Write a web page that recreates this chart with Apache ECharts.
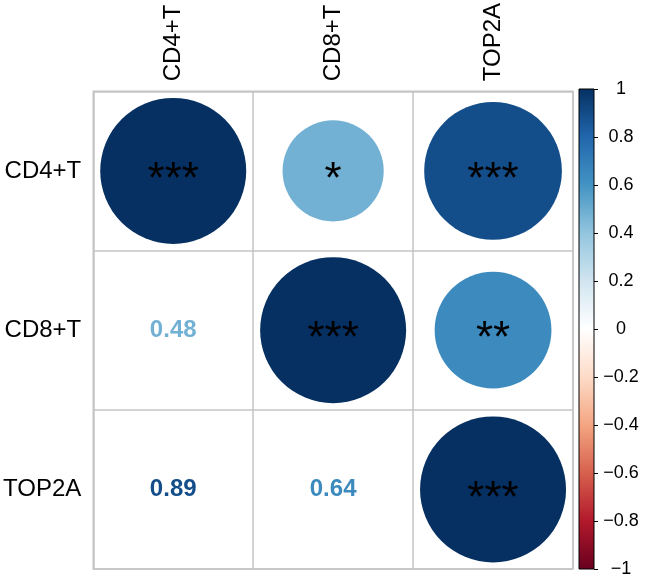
<!DOCTYPE html>
<html>
<head>
<meta charset="utf-8">
<script src="https://cdn.jsdelivr.net/npm/echarts@6/dist/echarts.min.js"></script>
<style>html,body{margin:0;padding:0;background:#fff}#c{width:646px;height:578px}</style>
</head>
<body>
<div id="c"></div>
<script>
// ---- data ----
const categories = ['CD4+T', 'CD8+T', 'TOP2A'];
const corrCD4 = [1, 0.48, 0.89];
const corrCD8 = [0.48, 1, 0.64];
const corrTOP2A = [0.89, 0.64, 1];
const sigCD4 = ['***', '*', '***'];
const sigCD8 = ['', '***', '**'];
const sigTOP2A = ['', '', '***'];
const colorbarTicks = [-1, -0.8, -0.6, -0.4, -0.2, 0, 0.2, 0.4, 0.6, 0.8, 1];
const palette = ['#67001F', '#B2182B', '#D6604D', '#F4A582', '#FDDBC7', '#FFFFFF',
                 '#D1E5F0', '#92C5DE', '#4393C3', '#2166AC', '#053061'];

const corrRows = [corrCD4, corrCD8, corrTOP2A];
const sigRows = [sigCD4, sigCD8, sigTOP2A];

const upper = [], lower = [];
for (let r = 0; r < categories.length; r++) {
  for (let c = 0; c < categories.length; c++) {
    if (c >= r) upper.push([c, r, corrRows[r][c], sigRows[r][c]]);
    else lower.push([c, r, corrRows[r][c]]);
  }
}

const FONT = '"Liberation Sans", Arial, Helvetica, sans-serif';
const grey = '#c4c4c4';
const chart = echarts.init(document.getElementById('c'), null, {renderer: 'canvas'});

const gradient = new echarts.graphic.LinearGradient(0, 1, 0, 0,
  palette.map((c, i) => ({offset: i / (palette.length - 1), color: c})));

chart.setOption({
  backgroundColor: '#fff',
  animation: false,
  grid: [
    {left: 93, top: 89, width: 480, height: 480, show: true, borderColor: grey, borderWidth: 1.5, backgroundColor: 'transparent'},
    {left: 579, top: 89, width: 15, height: 480}
  ],
  xAxis: [
    {
      gridIndex: 0, type: 'category', data: categories, position: 'top',
      axisLine: {show: false}, axisTick: {show: false},
      splitLine: {show: true, interval: 0, lineStyle: {color: grey, width: 1.5}},
      axisLabel: {rotate: -90, margin: 10, fontSize: 24, color: '#000', fontFamily: FONT, interval: 0}
    },
    {gridIndex: 1, type: 'category', data: ['bar'], show: false}
  ],
  yAxis: [
    {
      gridIndex: 0, type: 'category', data: categories, inverse: true,
      axisLine: {show: false}, axisTick: {show: false},
      splitLine: {show: true, interval: 0, lineStyle: {color: grey, width: 1.5}},
      axisLabel: {margin: 12, fontSize: 24, color: '#000', fontFamily: FONT, interval: 0}
    },
    {
      gridIndex: 1, type: 'value', min: -1, max: 1, interval: 0.2, position: 'right',
      axisLine: {show: false},
      axisTick: {show: true, length: 4, lineStyle: {color: '#000', width: 1}},
      splitLine: {show: false},
      axisLabel: {
        margin: 27, align: 'center', fontSize: 18, color: '#000', fontFamily: FONT,
        formatter: v => {
          const r = Math.round(v * 10) / 10;
          return colorbarTicks.indexOf(r) >= 0 ? String(r).replace('-', '\u2212') : '';
        }
      }
    }
  ],
  visualMap: {
    type: 'continuous', show: false, min: -1, max: 1, dimension: 2,
    seriesIndex: [0, 1], inRange: {color: palette}
  },
  series: [
    {
      type: 'scatter', xAxisIndex: 0, yAxisIndex: 0, data: upper,
      symbol: 'circle',
      symbolSize: v => Math.sqrt(Math.abs(v[2])) * 146,
      itemStyle: {opacity: 1},
      label: {
        show: true, position: 'inside', formatter: p => p.data[3],
        fontSize: 44, color: '#000', fontFamily: FONT, offset: [0, 10]
      },
      emphasis: {disabled: true}
    },
    {
      type: 'scatter', xAxisIndex: 0, yAxisIndex: 0, data: lower,
      symbolSize: 0,
      itemStyle: {opacity: 1},
      label: {
        show: true, position: 'inside', formatter: p => p.data[2].toFixed(2),
        fontSize: 24, fontWeight: 'bold', color: 'inherit', fontFamily: FONT
      },
      emphasis: {disabled: true}
    },
    {
      type: 'custom', xAxisIndex: 1, yAxisIndex: 1, data: [[0, -1, 1]],
      renderItem: (params, api) => {
        const p0 = api.coord([api.value(0), api.value(1)]);
        const p1 = api.coord([api.value(0), api.value(2)]);
        const w = api.size([1, 0])[0];
        return {
          type: 'rect',
          shape: {x: p0[0] - w / 2, y: p1[1], width: w, height: p0[1] - p1[1]},
          style: {fill: gradient, stroke: '#000', lineWidth: 1}
        };
      },
      silent: true
    }
  ]
});
</script>
</body>
</html>
